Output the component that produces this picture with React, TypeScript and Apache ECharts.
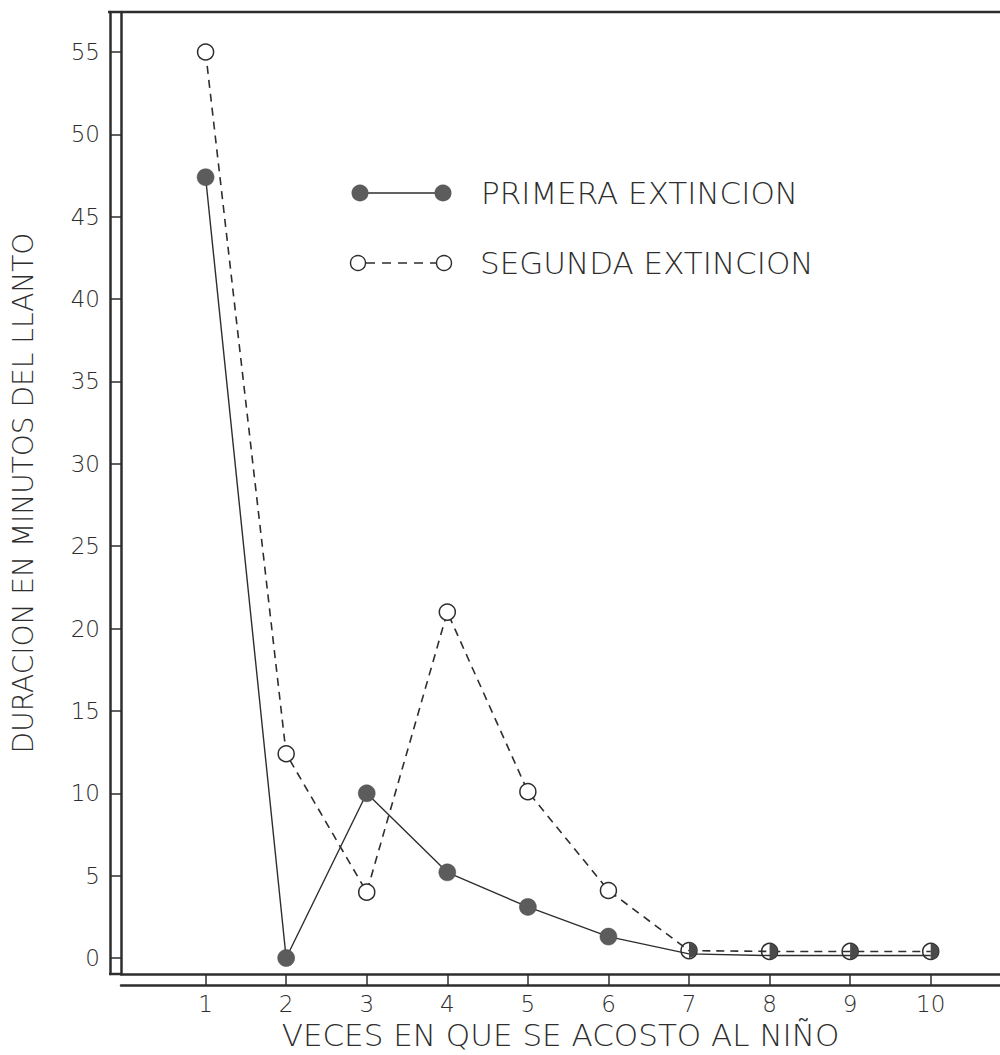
import React, { useEffect, useRef } from "react";
import * as echarts from "echarts";

// ---- data ----
const xValues = [1, 2, 3, 4, 5, 6, 7, 8, 9, 10];
const primera = [47.4, 0, 10, 5.2, 3.1, 1.3, 0.25, 0.15, 0.15, 0.15];
const segunda = [55, 12.4, 4, 21, 10.1, 4.1, 0.45, 0.4, 0.4, 0.4];
const yTicks = [0, 5, 10, 15, 20, 25, 30, 35, 40, 45, 50, 55];
const xTicks = [1, 2, 3, 4, 5, 6, 7, 8, 9, 10];
const seriesNames = ["PRIMERA EXTINCION", "SEGUNDA EXTINCION"];
const xTitle = "VECES EN QUE SE ACOSTO AL NIÑO";
const yTitle = "DURACION EN MINUTOS DEL LLANTO";
const sharedFrom = 6; // from this index both series coincide (half-filled markers)

const INK = "#2e2e2e";
const FONT = '"DejaVu Sans", "Liberation Sans", sans-serif';
const HALF = "path://M0,0 A10,10 0 0,1 0,20 Z";

export default function App() {
  const ref = useRef<HTMLDivElement>(null);
  useEffect(() => {
    if (!ref.current) return;
    const chart = echarts.init(ref.current, null, { renderer: "svg" });

    const primeraData = primera.map((v, i) =>
      i >= sharedFrom
        ? {
            value: [xValues[i], v],
            symbol: HALF,
            symbolSize: [8, 16],
            symbolOffset: [4, -4],
            itemStyle: { color: "#4a4a4a", borderWidth: 0 },
          }
        : { value: [xValues[i], v] }
    );
    const segundaData = segunda.map((v, i) =>
      i >= sharedFrom
        ? { value: [xValues[i], v], itemStyle: { color: "rgba(255,255,255,0)" } }
        : { value: [xValues[i], v] }
    );

    const baseX = {
      type: "value",
      min: -0.05,
      max: 10.86,
      position: "bottom",
      splitLine: { show: false },
    };
    const baseY = {
      type: "value",
      min: -0.97,
      max: 57.43,
      position: "left",
      splitLine: { show: false },
    };

    const option: any = {
      animation: false,
      backgroundColor: "#fff",
      grid: {
        left: 121,
        top: 12,
        right: 0,
        bottom: 81,
        containLabel: false,
        outerBoundsMode: "none",
      },
      xAxis: [
        {
          ...baseX,
          name: xTitle,
          nameLocation: "middle",
          nameGap: 44,
          nameTextStyle: { fontSize: 31, color: INK, fontFamily: FONT, fontWeight: 200 },
          axisLine: { show: true, onZero: false, lineStyle: { color: INK, width: 2.5 } },
          axisTick: {
            show: true,
            customValues: xTicks,
            length: 11,
            inside: false,
            lineStyle: { color: INK, width: 1.5 },
          },
          axisLabel: {
            customValues: xTicks,
            margin: 18,
            fontSize: 23,
            color: INK,
            fontFamily: FONT,
            fontWeight: 200,
          },
        },
        {
          ...baseX,
          offset: 11,
          axisLine: { show: true, onZero: false, lineStyle: { color: INK, width: 2.5 } },
          axisTick: { show: false },
          axisLabel: { show: false },
        },
      ],
      yAxis: [
        {
          ...baseY,
          name: yTitle,
          nameLocation: "middle",
          nameGap: 84,
          nameRotate: 90,
          nameTextStyle: { fontSize: 28, color: INK, fontFamily: FONT, fontWeight: 200 },
          axisLine: { show: true, onZero: false, lineStyle: { color: INK, width: 2.5 } },
          axisTick: {
            show: true,
            customValues: yTicks,
            length: 11,
            inside: false,
            lineStyle: { color: INK, width: 1.5 },
          },
          axisLabel: {
            customValues: yTicks,
            margin: 21,
            fontSize: 23,
            color: INK,
            fontFamily: FONT,
            fontWeight: 200,
          },
        },
        {
          ...baseY,
          offset: 11,
          axisLine: { show: true, onZero: false, lineStyle: { color: INK, width: 2.5 } },
          axisTick: { show: false },
          axisLabel: { show: false },
        },
      ],
      series: [
        {
          name: seriesNames[1],
          type: "line",
          data: segundaData,
          symbol: "circle",
          symbolSize: 16,
          lineStyle: { color: INK, width: 1.6, type: [8, 6] },
          itemStyle: { color: "#fff", borderColor: INK, borderWidth: 1.5 },
          z: 2,
        },
        {
          name: seriesNames[0],
          type: "line",
          data: primeraData,
          symbol: "circle",
          symbolSize: 17,
          lineStyle: { color: INK, width: 1.4, type: "solid" },
          itemStyle: { color: "#5c5c5c", borderColor: "#4a4a4a", borderWidth: 0.5 },
          z: 3,
        },
      ],
      graphic: [
        {
          type: "line",
          shape: { x1: 108, y1: 12, x2: 1000, y2: 12 },
          style: { stroke: INK, lineWidth: 2.5 },
        },
        {
          type: "line",
          shape: { x1: 109, y1: 974, x2: 122, y2: 974 },
          style: { stroke: INK, lineWidth: 2.5 },
        },
        // legend row 1
        { type: "line", shape: { x1: 360, y1: 193, x2: 443, y2: 193 }, style: { stroke: INK, lineWidth: 1.4 } },
        { type: "circle", shape: { cx: 360, cy: 193, r: 8.5 }, style: { fill: "#5c5c5c" } },
        { type: "circle", shape: { cx: 443, cy: 193, r: 8.5 }, style: { fill: "#5c5c5c" } },
        {
          type: "text",
          x: 481,
          y: 193,
          style: {
            text: seriesNames[0],
            fontSize: 31,
            fontFamily: FONT,
            fontWeight: 200,
            fill: INK,
            verticalAlign: "middle",
            align: "left",
          },
        },
        // legend row 2
        {
          type: "line",
          shape: { x1: 366, y1: 263, x2: 437, y2: 263 },
          style: { stroke: INK, lineWidth: 1.4, lineDash: [9, 7] },
        },
        { type: "circle", shape: { cx: 358, cy: 263, r: 7.5 }, style: { fill: "#fff", stroke: INK, lineWidth: 1.4 } },
        { type: "circle", shape: { cx: 444, cy: 263, r: 7.5 }, style: { fill: "#fff", stroke: INK, lineWidth: 1.4 } },
        {
          type: "text",
          x: 480,
          y: 263,
          style: {
            text: seriesNames[1],
            fontSize: 31,
            fontFamily: FONT,
            fontWeight: 200,
            fill: INK,
            verticalAlign: "middle",
            align: "left",
          },
        },
      ],
    };
    chart.setOption(option);
    return () => chart.dispose();
  }, []);

  return (
    <div
      ref={ref}
      style={{ position: "absolute", left: 0, top: 0, width: 1000, height: 1055, background: "#fff" }}
    />
  );
}
